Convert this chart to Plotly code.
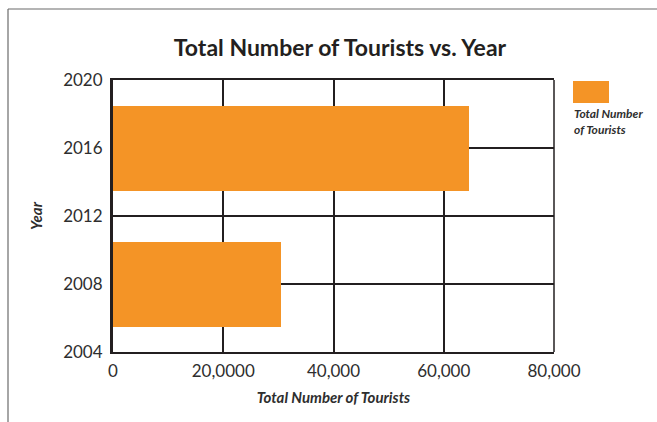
import plotly.graph_objects as go

years = [2008, 2016]
tourists = [30500, 64500]
x_tickvals = [0, 20000, 40000, 60000, 80000]
x_ticktext = ["0", "20,0000", "40,000", "60,000", "80,000"]
y_tickvals = [2004, 2008, 2012, 2016, 2020]
series_name = "Total Number of Tourists"

ORANGE = "#F49426"
DARK = "#231F20"
TXT = "#2e2e2e"

fig = go.Figure()
fig.add_trace(go.Bar(
    y=years, x=tourists, orientation="h", width=5,
    marker=dict(color=ORANGE, line=dict(width=0)),
    name=series_name, showlegend=False,
))

W, H = 657, 422
L, R, T, B = 113, 554, 80, 352
pw, ph = R - L, B - T

def px(x):
    return (x - L) / pw

def py(y):
    return (B - y) / ph

shapes = [
    # right frame edge
    dict(type="line", xref="paper", yref="paper", x0=1, x1=1, y0=0, y1=1,
         line=dict(color=DARK, width=1.5)),
    # outer gray border (left and top)
    dict(type="line", xref="paper", yref="paper", x0=px(8), x1=px(8), y0=py(9), y1=py(425),
         line=dict(color="#6b6b6b", width=1.2)),
    dict(type="line", xref="paper", yref="paper", x0=px(8), x1=px(660), y0=py(9), y1=py(9),
         line=dict(color="#6b6b6b", width=1.2)),
    # legend swatch
    dict(type="rect", xref="paper", yref="paper", x0=px(573), x1=px(609), y0=py(103), y1=py(81),
         fillcolor=ORANGE, line=dict(width=0)),
]

annotations = [
    dict(text="Total Number<br>of Tourists", xref="paper", yref="paper",
         x=px(572), y=py(104), xanchor="left", yanchor="top", align="left",
         showarrow=False,
         font=dict(family="Lato", size=12, color=TXT, weight="bold", style="italic")),
]

fig.update_layout(
    width=W, height=H,
    margin=dict(l=L, r=W - R, t=T, b=H - B, pad=0),
    paper_bgcolor="white", plot_bgcolor="white",
    title=dict(text="Total Number of Tourists vs. Year",
               x=px(340), xref="paper", xanchor="center",
               y=1 - 48 / H, yref="container", yanchor="middle",
               font=dict(family="Lato", size=23, color=DARK, weight="bold")),
    shapes=shapes, annotations=annotations,
    showlegend=False,
    bargap=0,
)

fig.update_xaxes(
    range=[0, 80000], tickvals=x_tickvals, ticktext=x_ticktext,
    showgrid=True, gridcolor=DARK, gridwidth=1.5,
    showline=True, linecolor=DARK, linewidth=1.5, mirror=True,
    zeroline=False, ticks="", ticklabelstandoff=3,
    tickfont=dict(family="Lato", size=17, color=TXT),
    title=dict(text="Total Number of Tourists", standoff=12,
               font=dict(family="Lato", size=15, color=TXT, weight="bold", style="italic")),
)
fig.update_yaxes(
    range=[2004, 2020], tickvals=y_tickvals,
    showgrid=True, gridcolor=DARK, gridwidth=1.5,
    showline=True, linecolor=DARK, linewidth=3,
    zeroline=False, ticks="", ticklabelstandoff=4,
    tickfont=dict(family="Lato", size=17, color=TXT),
    title=dict(text="Year", standoff=17,
               font=dict(family="Lato", size=15, color=TXT, weight="bold", style="italic")),
)

fig.write_html("out.html", config={"displayModeBar": False},
               post_script="document.body.style.margin='0';")
